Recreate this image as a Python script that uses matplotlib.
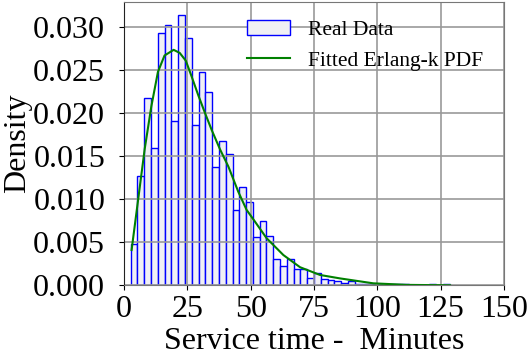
import numpy as np
import matplotlib
matplotlib.use("Agg")
import matplotlib.pyplot as plt

plt.rcParams['font.family'] = ['Liberation Serif', 'DejaVu Serif']

# histogram of service times (density per bin), bins start at 2.64 min, width 2.68 min
bin_start = 2.64
bin_width = 2.68
density = [0.0048, 0.0127, 0.0218, 0.0160, 0.0293, 0.0302, 0.0191, 0.0314,
           0.0287, 0.0186, 0.0248, 0.0225, 0.0138, 0.0168, 0.0152, 0.0087,
           0.0114, 0.0097, 0.0056, 0.0075, 0.0057, 0.0030, 0.0023, 0.0031,
           0.0019, 0.0019, 0.0008, 0.0014, 0.0007, 0.0006, 0.0005, 0.0003,
           0.0005, 0.0002, 0.0002, 0.0001, 0.0001, 0.0000, 0.0001, 0.0001,
           0.0001, 0.0000, 0.0000, 0.0000, 0.0002, 0.0000, 0.0001]

# fitted Erlang-k pdf
fit_x = [3.0, 8.2, 10.8, 13.4, 16.0, 19.6, 22.0, 24.4, 26.7, 29.3, 32.0,
         34.6, 37.9, 41.2, 45.1, 48.4, 51.7, 56.3, 62.9, 69.5, 77.4, 85.3,
         98.4, 111.6, 128.7]
fit_y = [0.0041, 0.0159, 0.0208, 0.0248, 0.0267, 0.02736, 0.0270, 0.0261,
         0.02426, 0.0221, 0.0200, 0.01806, 0.0158, 0.0138, 0.01088, 0.00876,
         0.0074, 0.00547, 0.00352, 0.0021, 0.0012, 0.0008, 0.00023, 0.00005,
         0.0]

edges = bin_start + bin_width * np.arange(len(density) + 1)
centers = (edges[:-1] + edges[1:]) / 2

fig = plt.figure(figsize=(5.29, 3.6), dpi=100)
ax = fig.add_axes([0.2344, 0.2075, 0.7183, 0.7865])

ax.hist(centers, bins=edges, weights=density, facecolor='#f0f0f4',
        edgecolor='blue', linewidth=1.0, label='Real Data')
ax.plot(fit_x, fit_y, color='green', linewidth=1.5, label='Fitted Erlang-k PDF')

ax.set_xlim(0, 150)
ax.set_ylim(0, 0.0329)
ax.set_xticks([0, 25, 50, 75, 100, 125, 150])
ax.set_yticks([0.000, 0.005, 0.010, 0.015, 0.020, 0.025, 0.030])
ax.yaxis.set_major_formatter(matplotlib.ticker.FormatStrFormatter('%.3f'))
ax.tick_params(labelsize=23)
ax.tick_params(axis='y', pad=10)
ax.grid(True, color='#999999', linewidth=1.2)

for s in ['bottom', 'right', 'top']:
    ax.spines[s].set_color('#777777')
ax.spines['left'].set_color('#222222')

ax.set_xlabel('Service time -  Minutes', fontsize=23, labelpad=2)
ax.set_ylabel('Density', fontsize=23)
ax.yaxis.set_label_coords(-0.242, 0.5)
ax.legend(loc='upper right', frameon=False, fontsize=15.5,
          bbox_to_anchor=(0.995, 1.005))

fig.savefig('out.png', dpi=100)
